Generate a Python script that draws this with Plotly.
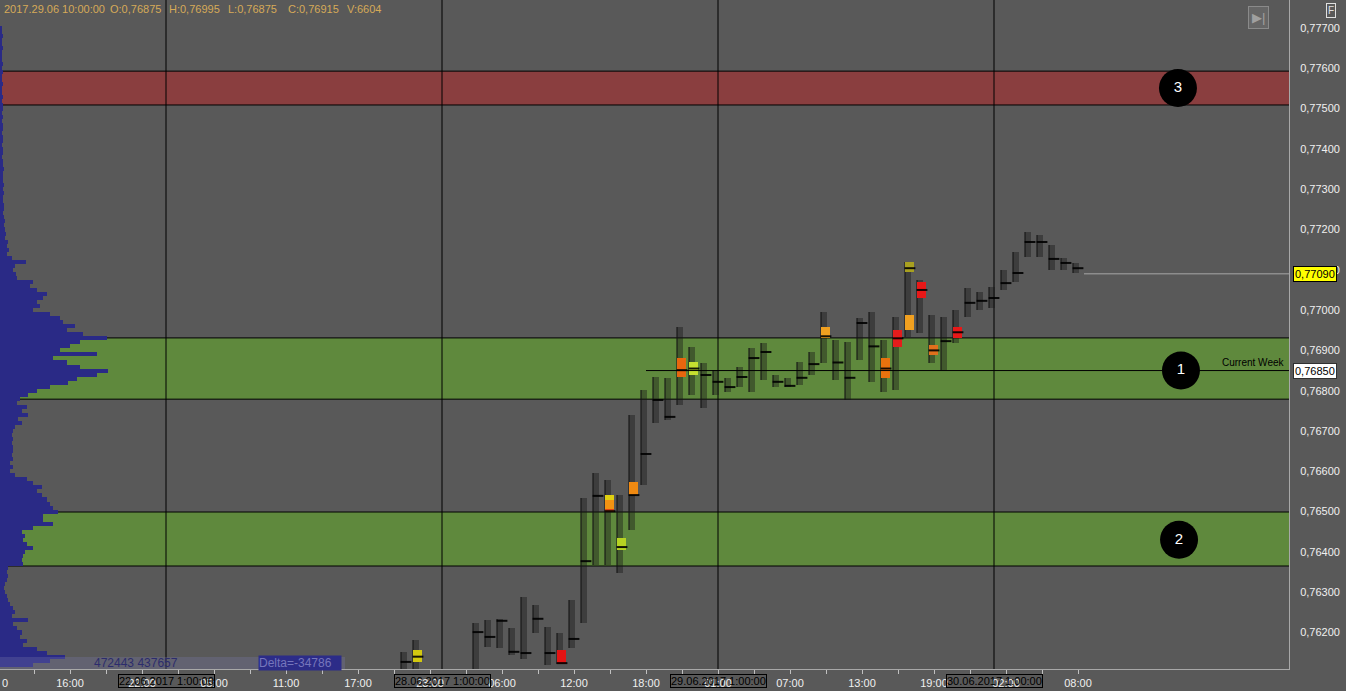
import plotly.graph_objects as go

# ---------------- data ----------------
# x axis: hourly slots (slot 0 = 21.06 01:00, 23 slots per trading day)
SLOT_MIN, SLOT_MAX = 110 / 12, 1399 / 12
PRICE_MIN, PRICE_MAX = 0.761094, 0.777695

tick_slots = list(range(12, 100, 3))
label_slots = [15, 21, 27, 33, 39, 45, 51, 57, 63, 69, 75, 81, 87, 93, 99]
label_texts = ["16:00", "22:00", "05:00", "11:00", "17:00", "23:00", "06:00", "12:00",
               "18:00", "01:00", "07:00", "13:00", "19:00", "02:00", "08:00"]

price_ticks = [0.762, 0.763, 0.764, 0.765, 0.766, 0.767, 0.768, 0.769,
               0.770, 0.771, 0.772, 0.773, 0.774, 0.775, 0.776, 0.777]
price_tick_labels = ["0,76200", "0,76300", "0,76400", "0,76500", "0,76600", "0,76700",
                     "0,76800", "0,76900", "0,77000", "0,77100", "0,77200", "0,77300",
                     "0,77400", "0,77500", "0,77600", "0,77700"]

day_slots = [23, 46, 69, 92]
day_labels = ["22.06.2017 1:00:00", "28.06.2017 1:00:00", "29.06.2017 1:00:00", "30.06.2017 1:00:00"]

zone_low = [0.77509, 0.76779, 0.76365]
zone_high = [0.77593, 0.76931, 0.76499]
zone_color = ["#8a3e3f", "#5f893d", "#5f893d"]

# footprint columns (hourly)
fp_slot = [42, 43, 48, 49, 50, 51, 52, 53, 54, 55, 56, 57, 58, 59, 60, 61, 62, 63, 64, 65,
           66, 67, 68, 69, 70, 71, 72, 73, 74, 75, 76, 77, 78, 79, 80, 81, 82, 83, 84, 85,
           86, 87, 88, 89, 90, 91, 92, 93, 94, 95, 96, 97, 98]
fp_high = [0.76152, 0.76181, 0.76224, 0.76231, 0.76234, 0.76211, 0.76288, 0.76268, 0.76214, 0.76199,
           0.76281, 0.76534, 0.76596, 0.76578, 0.76541, 0.76740, 0.76802, 0.76834, 0.76832, 0.76958,
           0.76908, 0.76869, 0.76851, 0.76832, 0.76859, 0.76906, 0.76918, 0.76839, 0.76832, 0.76871,
           0.76896, 0.76995, 0.76926, 0.76921, 0.76980, 0.76995, 0.76926, 0.76983, 0.77119, 0.77075,
           0.76988, 0.76983, 0.77000, 0.77055, 0.77045, 0.77057, 0.77100, 0.77144, 0.77194, 0.77186,
           0.77162, 0.77129, 0.77117]
fp_low = [0.76107, 0.76107, 0.76107, 0.76164, 0.76162, 0.76144, 0.76134, 0.76199, 0.76119, 0.76122,
          0.76162, 0.76224, 0.76368, 0.76368, 0.76348, 0.76454, 0.76566, 0.76720, 0.76727, 0.76765,
          0.76789, 0.76757, 0.76789, 0.76797, 0.76809, 0.76797, 0.76827, 0.76809, 0.76809, 0.76814,
          0.76839, 0.76869, 0.76827, 0.76777, 0.76876, 0.76822, 0.76797, 0.76802, 0.76933, 0.76943,
          0.76869, 0.76851, 0.76918, 0.76983, 0.77000, 0.77005, 0.77050, 0.77070, 0.77132, 0.77132,
          0.77100, 0.77100, 0.77092]
fp_poc = [0.76127, 0.76140, 0.76201, 0.76189, 0.76229, 0.76152, 0.76149, 0.76234, 0.76149, 0.76124,
          0.76184, 0.76377, 0.76539, 0.76501, 0.76412, 0.76541, 0.76643, 0.76777, 0.76735, 0.76851,
          0.76855, 0.76839, 0.76822, 0.76809, 0.76834, 0.76881, 0.76896, 0.76822, 0.76812, 0.76832,
          0.76866, 0.76935, 0.76870, 0.76832, 0.76968, 0.76910, 0.76855, 0.76930, 0.77104, 0.77050,
          0.76900, 0.76923, 0.76945, 0.77018, 0.77023, 0.77030, 0.77067, 0.77092, 0.77169, 0.77169,
          0.77127, 0.77117, 0.77104]

# highlighted volume clusters
cl_slot = [43, 55, 59, 59, 59, 60, 61, 65, 66, 77, 82, 83, 84, 84, 85, 86, 88]
cl_low = [0.76127, 0.76122, 0.76529, 0.76506, 0.76499, 0.76405, 0.76541, 0.76834, 0.76839, 0.76931,
          0.76832, 0.76908, 0.77095, 0.76951, 0.77030, 0.76889, 0.76931]
cl_high = [0.76157, 0.76157, 0.76541, 0.76529, 0.76506, 0.76434, 0.76573, 0.76881, 0.76871, 0.76958,
           0.76881, 0.76951, 0.77119, 0.76988, 0.77070, 0.76913, 0.76958]
cl_color = ["#d2c810", "#e41414", "#e0d010", "#f29212", "#e04410", "#b6d222", "#f08a12", "#e8660e",
            "#c6e030", "#f0a020", "#e8720e", "#e41c1c", "#a8a020", "#f0a020", "#e81818", "#e0701c",
            "#e81818"]

# left volume profile (0.7770 down, step 0.0001)
prof_top = 0.7770
prof_step = 0.0001
prof_vol = [2, 2, 3, 2, 2, 3, 2, 2, 2, 3, 2, 3, 2, 2, 3, 2, 2, 3, 2, 3, 3, 2, 3, 2, 3, 3, 2, 3, 3, 2,
            3, 3, 2, 3, 3, 4, 3, 3, 3, 4, 3, 4, 3, 3, 4, 4, 3, 4, 5, 4,
            5, 6, 5, 8, 7, 9, 7, 12, 26, 15, 13, 16, 17, 33, 30, 37, 47, 43, 37, 40,
            33, 50, 60, 63, 75, 67, 83, 107, 80, 70, 60, 97, 53, 67, 80, 108, 97, 77, 68, 50,
            37, 28, 20, 17, 27, 22, 28, 18, 22, 15, 13, 12, 13, 12, 13, 13, 12, 13, 10, 13,
            10, 15, 27, 33, 42, 37, 42, 47, 50, 53, 58, 43, 43, 53, 33, 22, 25, 23, 27, 33,
            25, 23, 22, 23, 8, 7, 8, 7, 5, 4, 5, 7, 8, 10, 13, 15, 12, 28, 13, 17,
            22, 20, 27, 23, 37, 47, 65, 50, 33]
prof_price = [round(prof_top - prof_step * i, 5) for i in range(len(prof_vol))]

circle_slot = [107.58, 107.42, 107.33]
circle_price = [0.76850, 0.76430, 0.77551]
circle_text = ["1", "2", "3"]

current_week_price = 0.76850
current_week_start = 63
last_price = 0.77090
last_price_start = 99.5

header_items = ["2017.29.06 10:00:00", "O:0,76875", "H:0,76995", "L:0,76875", "C:0,76915", "V:6604"]
header_px = [2, 108, 167, 226, 286, 345]

# ---------------- figure ----------------
BG = "#595959"
FONT = "Arial, Liberation Sans, sans-serif"
W_PLOT = 1289

fig = go.Figure()

# volume profile
fig.add_trace(go.Bar(orientation="h", y=prof_price, x=prof_vol, base=0, width=prof_step,
                     xaxis="x2", yaxis="y", marker=dict(color="#2a2a86", line=dict(width=0)),
                     hoverinfo="skip", showlegend=False))

# footprint bodies
fig.add_trace(go.Bar(x=[s + 0.83 for s in fp_slot], y=[h - l for h, l in zip(fp_high, fp_low)],
                     base=fp_low, width=0.45,
                     marker=dict(color="rgba(25,25,25,0.42)", line=dict(width=0)),
                     hoverinfo="skip", showlegend=False))
# spines
fig.add_trace(go.Bar(x=[s + 0.62 for s in fp_slot], y=[h - l for h, l in zip(fp_high, fp_low)],
                     base=fp_low, width=0.16,
                     marker=dict(color="rgba(20,20,20,0.55)", line=dict(width=0)),
                     hoverinfo="skip", showlegend=False))
# clusters
fig.add_trace(go.Bar(x=[s + 0.95 for s in cl_slot], y=[h - l for h, l in zip(cl_high, cl_low)],
                     base=cl_low, width=0.7,
                     marker=dict(color=cl_color, line=dict(width=0)),
                     hoverinfo="skip", showlegend=False))
# POC ticks
px_, py_ = [], []
for s, p in zip(fp_slot, fp_poc):
    px_ += [s + 0.55, s + 1.45, None]
    py_ += [p, p, None]
fig.add_trace(go.Scatter(x=px_, y=py_, mode="lines", line=dict(color="rgba(0,0,0,0.9)", width=2),
                         hoverinfo="skip", showlegend=False))

# current week line and last price line
fig.add_trace(go.Scatter(x=[current_week_start, SLOT_MAX], y=[current_week_price] * 2, mode="lines",
                         line=dict(color="#000000", width=1), hoverinfo="skip", showlegend=False))
fig.add_trace(go.Scatter(x=[last_price_start, SLOT_MAX], y=[last_price] * 2, mode="lines",
                         line=dict(color="#a8a8a8", width=1), hoverinfo="skip", showlegend=False))

# numbered circles
fig.add_trace(go.Scatter(x=circle_slot, y=circle_price, mode="markers+text", text=circle_text,
                         textposition="middle center",
                         marker=dict(size=38, color="#000000", line=dict(width=0)),
                         textfont=dict(color="#ffffff", size=15, family=FONT),
                         hoverinfo="skip", showlegend=False))

shapes = []
for lo, hi, c in zip(zone_low, zone_high, zone_color):
    shapes.append(dict(type="rect", xref="paper", x0=0, x1=1, yref="y", y0=lo, y1=hi,
                       fillcolor=c, line=dict(width=0), layer="below"))
for lo, hi in zip(zone_low, zone_high):
    for yv in (lo, hi):
        shapes.append(dict(type="line", xref="paper", x0=0, x1=1, yref="y", y0=yv, y1=yv,
                           line=dict(color="#000000", width=1), layer="below"))
for s in day_slots:
    shapes.append(dict(type="line", xref="x", x0=s, x1=s, yref="paper", y0=0, y1=1,
                       line=dict(color="#000000", width=1), layer="below"))
# bottom-left summary strip
shapes.append(dict(type="rect", xref="paper", x0=0, x1=345 / W_PLOT, yref="paper", y0=0, y1=12 / 669,
                   fillcolor="rgba(120,120,170,0.30)", line=dict(width=0), layer="above"))

ann = []
for s, t in zip(day_slots, day_labels):
    ann.append(dict(xref="x", x=s, yref="paper", y=0, yanchor="top", yshift=-5, text=t,
                    showarrow=False, font=dict(color="#000000", size=11, family=FONT),
                    bordercolor="#000000", borderwidth=1, borderpad=0))
ann.append(dict(xref="paper", x=0, xanchor="left", xshift=0, yref="paper", y=0, yanchor="top",
                yshift=-6, text="0", showarrow=False, font=dict(color="#f0f0f0", size=11, family=FONT)))
for t, p in zip(header_items, header_px):
    ann.append(dict(xref="paper", x=p / W_PLOT, xanchor="left", yref="paper", y=1, yanchor="top",
                    yshift=-1, text=t, showarrow=False, font=dict(color="#d6aa58", size=11, family=FONT)))
ann.append(dict(xref="paper", x=1, xanchor="right", xshift=-2, yref="y", y=0.76869, text="Current Week",
                showarrow=False, font=dict(color="#000000", size=10, family=FONT)))
ann.append(dict(xref="paper", x=1, xanchor="left", xshift=4, yref="y", y=last_price, text="0,77090",
                showarrow=False, bgcolor="#ffff00", bordercolor="#000000", borderwidth=1, borderpad=1,
                font=dict(color="#000000", size=11, family=FONT)))
ann.append(dict(xref="paper", x=1, xanchor="left", xshift=4, yref="y", y=current_week_price, text="0,76850",
                showarrow=False, bgcolor="#ffffff", bordercolor="#303030", borderwidth=1, borderpad=1,
                font=dict(color="#000000", size=11, family=FONT)))
ann.append(dict(xref="paper", x=92 / W_PLOT, xanchor="left", yref="paper", y=6 / 669, yanchor="middle",
                text="472443 437657", showarrow=False, font=dict(color="#2c2c6c", size=12, family=FONT)))
ann.append(dict(xref="paper", x=258 / W_PLOT, xanchor="left", yref="paper", y=6 / 669, yanchor="middle",
                text="Delta=-34786   ", showarrow=False, bgcolor="#2c2c88", borderpad=0,
                font=dict(color="#7676bc", size=12, family=FONT)))
ann.append(dict(xref="paper", x=1336 / W_PLOT, yref="paper", y=1, yanchor="top", yshift=-3, text="F",
                showarrow=False, bordercolor="#e0e0e0", borderwidth=1, borderpad=1,
                font=dict(color="#e0e0e0", size=10, family=FONT)))
ann.append(dict(xref="paper", x=1269 / W_PLOT, yref="paper", y=1, yanchor="top", yshift=-6, text="▶|",
                showarrow=False, bordercolor="#8a8a8a", borderwidth=1, borderpad=3, bgcolor="#666666",
                font=dict(color="#a0a0a0", size=13, family=FONT)))

tick_text = [label_texts[label_slots.index(s)] if s in label_slots else "" for s in tick_slots]

fig.update_layout(
    width=1346, height=691,
    margin=dict(l=0, r=57, t=0, b=22, autoexpand=False),
    paper_bgcolor=BG, plot_bgcolor=BG,
    font=dict(family=FONT, color="#f0f0f0", size=11),
    barmode="overlay", bargap=0,
    showlegend=False,
    shapes=shapes, annotations=ann,
    xaxis=dict(range=[SLOT_MIN, SLOT_MAX], tickmode="array", tickvals=tick_slots, ticktext=tick_text,
               ticks="outside", ticklen=4, tickcolor="#c0c0c0", showgrid=False, zeroline=False,
               showline=True, linecolor="#a8a8a8", linewidth=1, automargin=False,
               tickfont=dict(color="#f0f0f0", size=11, family=FONT), fixedrange=True),
    xaxis2=dict(range=[0, W_PLOT], overlaying="x", anchor="y", visible=False, fixedrange=True),
    yaxis=dict(range=[PRICE_MIN, PRICE_MAX], side="right", tickmode="array", tickvals=price_ticks,
               ticktext=price_tick_labels, ticks="outside", ticklen=8, tickcolor=BG, automargin=False,
               showgrid=False, zeroline=False, showline=True, linecolor="#a8a8a8", linewidth=1,
               tickfont=dict(color="#f0f0f0", size=11, family=FONT), fixedrange=True),
)

fig.write_html("out.html", config={"displayModeBar": False},
               post_script="document.body.style.margin='0';document.body.style.background='#595959';")
